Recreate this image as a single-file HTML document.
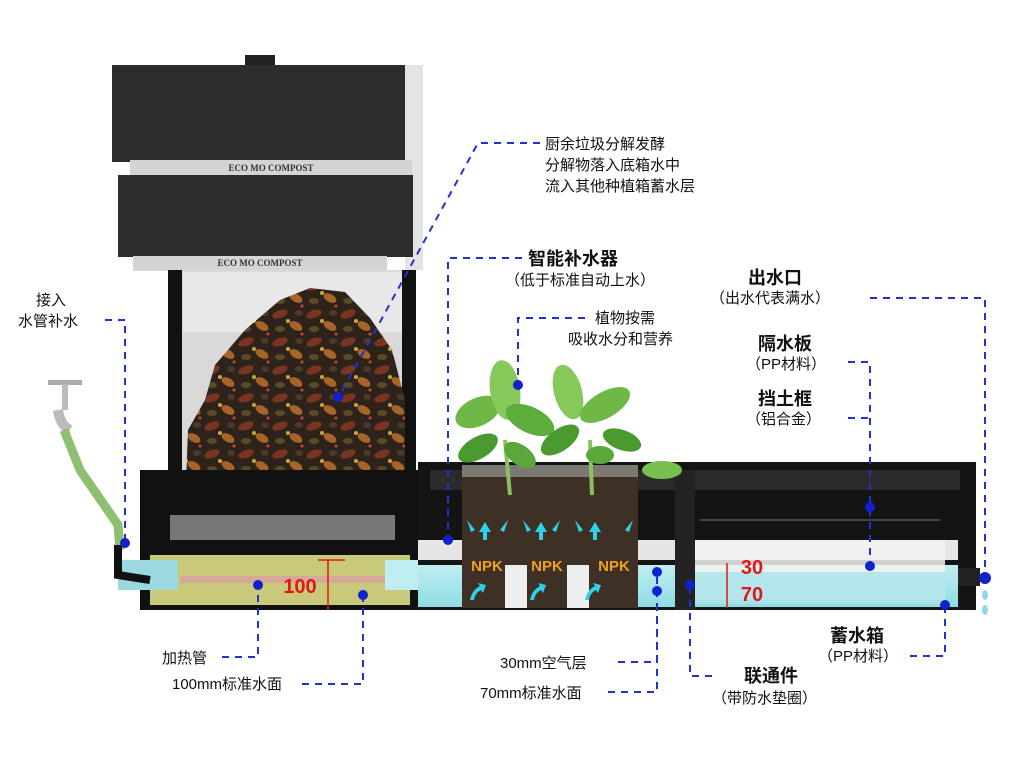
<!DOCTYPE html>
<html><head><meta charset="utf-8"><style>
html,body{margin:0;padding:0;background:#fff;}
svg{display:block;font-family:"Liberation Sans","Noto Sans CJK SC",sans-serif;}
.t{font-size:15px;fill:#111;}
.b{font-size:18px;font-weight:bold;fill:#111;}
.d{stroke:#2233cc;stroke-width:2;stroke-dasharray:7,6;fill:none;}
.dot{fill:#1122cc;}
</style></head><body>
<svg width="1024" height="768" viewBox="0 0 1024 768" xmlns="http://www.w3.org/2000/svg">
<defs>
<linearGradient id="water" x1="0" y1="0" x2="0" y2="1"><stop offset="0" stop-color="#bfeef2"/><stop offset="1" stop-color="#8fdce4"/></linearGradient>
<pattern id="waste" width="34" height="28" patternUnits="userSpaceOnUse">
<rect width="34" height="28" fill="#2e231a"/>
<ellipse cx="8" cy="6" rx="8" ry="4" fill="#7a3422" transform="rotate(-20 8 6)"/>
<ellipse cx="24" cy="18" rx="7" ry="4" fill="#a86428" transform="rotate(30 24 18)"/>
<ellipse cx="8" cy="21" rx="5" ry="3" fill="#5a4a26"/>
<ellipse cx="27" cy="5" rx="4" ry="3" fill="#4a3a2a"/>
<circle cx="16" cy="13" r="2" fill="#c8a838"/>
<circle cx="30" cy="26" r="1.5" fill="#c84a30"/>
</pattern>
</defs>
<rect width="1024" height="768" fill="#fff"/>

<!-- compost bin -->
<rect x="245" y="55" width="30" height="12" fill="#222"/>
<rect x="112" y="65" width="306" height="97" fill="#2c2c2e"/>
<rect x="405" y="65" width="18" height="205" fill="#e4e4e4"/>
<rect x="130" y="160" width="282" height="15" fill="#d4d4d4"/>
<text x="271" y="171" font-size="9" font-family="Liberation Serif,serif" font-weight="bold" fill="#333" text-anchor="middle">ECO MO COMPOST</text>
<rect x="118" y="175" width="295" height="82" fill="#2c2c2e"/>
<rect x="133" y="256" width="254" height="15" fill="#d4d4d4"/>
<text x="260" y="266" font-size="9" font-family="Liberation Serif,serif" font-weight="bold" fill="#333" text-anchor="middle">ECO MO COMPOST</text>
<rect x="168" y="270" width="248" height="240" fill="#d9d9d9"/>
<rect x="183" y="272" width="220" height="60" fill="#e8e8e8"/>
<rect x="168" y="270" width="14" height="245" fill="#111"/>
<rect x="402" y="270" width="14" height="245" fill="#111"/>
<path d="M185 510 L188 430 L205 400 L215 365 L245 330 L280 300 L310 288 L345 292 L370 318 L392 350 L405 400 L405 510 Z" fill="url(#waste)"/>

<!-- base of compost -->
<rect x="140" y="470" width="290" height="140" fill="#111"/>
<rect x="170" y="515" width="225" height="25" fill="#777"/>
<rect x="150" y="555" width="260" height="50" fill="#c9c97a"/>
<rect x="180" y="576" width="230" height="7" fill="#d8a0a0" opacity="0.8"/>
<rect x="118" y="560" width="60" height="30" fill="#9cd8e0"/>
<rect x="385" y="560" width="50" height="30" fill="#bfeef2"/>
<text x="300" y="593" font-size="20" font-weight="bold" fill="#e01818" text-anchor="middle">100</text>
<line x1="328" y1="560" x2="328" y2="610" stroke="#e01818" stroke-width="1.5"/>
<line x1="318" y1="560" x2="345" y2="560" stroke="#e01818" stroke-width="1.5"/>

<!-- faucet & pipe -->
<rect x="48" y="380" width="34" height="5" fill="#aaa"/>
<rect x="62" y="384" width="6" height="26" fill="#bbb"/>
<path d="M58 410 Q60 425 70 430" stroke="#bbb" stroke-width="10" fill="none"/>
<path d="M64 430 L80 470 L118 525 L120 550" stroke="#8fbf70" stroke-width="9" fill="none"/>
<path d="M118 545 L118 575 L150 580" stroke="#111" stroke-width="8" fill="none"/>

<!-- planter -->
<rect x="418" y="462" width="558" height="148" fill="#141414"/>
<rect x="430" y="470" width="530" height="20" fill="#2a2a2a"/>
<line x1="700" y1="520" x2="940" y2="520" stroke="#444" stroke-width="2"/>
<rect x="418" y="540" width="540" height="20" fill="#e6e6e6"/>
<rect x="418" y="565" width="540" height="42" fill="url(#water)"/>
<rect x="690" y="540" width="255" height="60" fill="#f2f2f2" opacity="0.85"/>
<rect x="690" y="572" width="255" height="32" fill="#a8e4ea" opacity="0.8"/>
<rect x="675" y="470" width="20" height="140" fill="#222"/>
<rect x="462" y="468" width="176" height="140" fill="#3e3024"/>
<rect x="462" y="465" width="176" height="12" fill="#7a7a72"/>
<rect x="505" y="565" width="22" height="43" fill="#eee"/>
<rect x="567" y="565" width="22" height="43" fill="#eee"/>
<text x="487" y="571" font-size="15" font-weight="bold" fill="#f0a020" text-anchor="middle">NPK</text>
<text x="547" y="571" font-size="15" font-weight="bold" fill="#f0a020" text-anchor="middle">NPK</text>
<text x="614" y="571" font-size="15" font-weight="bold" fill="#f0a020" text-anchor="middle">NPK</text>
<g fill="#2fd0ea">
<path d="M485 522 l-6 10 h4 v8 h4 v-8 h4 z"/><path d="M541 522 l-6 10 h4 v8 h4 v-8 h4 z"/><path d="M595 522 l-6 10 h4 v8 h4 v-8 h4 z"/>
<path d="M467 520 l8 10 l-4 2 z"/><path d="M508 520 l-8 10 l4 2 z"/><path d="M523 520 l8 10 l-4 2 z"/><path d="M560 520 l-8 10 l4 2 z"/><path d="M575 520 l8 10 l-4 2 z"/><path d="M633 520 l-8 10 l4 2 z"/>
<path d="M470 600 q2-10 10-14 l-2-3 8 2-3 8-2-3 q-6 3-7 10z"/><path d="M530 600 q2-10 10-14 l-2-3 8 2-3 8-2-3 q-6 3-7 10z"/><path d="M585 600 q2-10 10-14 l-2-3 8 2-3 8-2-3 q-6 3-7 10z"/>
</g>
<text x="752" y="574" font-size="20" font-weight="bold" fill="#e01818" text-anchor="middle">30</text>
<text x="752" y="601" font-size="20" font-weight="bold" fill="#e01818" text-anchor="middle">70</text>
<line x1="727" y1="563" x2="727" y2="608" stroke="#e01818" stroke-width="1.5"/>
<rect x="958" y="568" width="22" height="18" fill="#222"/>
<ellipse cx="985" cy="595" rx="3" ry="5" fill="#8fd8ea"/><ellipse cx="985" cy="610" rx="3" ry="5" fill="#8fd8ea"/>

<!-- plants -->
<path d="M505 440 L510 495 M590 440 L592 495" stroke="#8bbf60" stroke-width="4"/>
<g>
<ellipse cx="478" cy="412" rx="24" ry="14" transform="rotate(-25 478 412)" fill="#6fb848"/>
<ellipse cx="505" cy="390" rx="15" ry="30" transform="rotate(-8 505 390)" fill="#86c85a"/>
<ellipse cx="530" cy="420" rx="26" ry="13" transform="rotate(25 530 420)" fill="#5cae3c"/>
<ellipse cx="478" cy="448" rx="22" ry="11" transform="rotate(-30 478 448)" fill="#4a9a30"/>
<ellipse cx="520" cy="455" rx="18" ry="10" transform="rotate(35 520 455)" fill="#5aa83a"/>
<ellipse cx="568" cy="392" rx="14" ry="28" transform="rotate(-15 568 392)" fill="#86c85a"/>
<ellipse cx="605" cy="405" rx="28" ry="13" transform="rotate(-30 605 405)" fill="#6fb848"/>
<ellipse cx="560" cy="440" rx="22" ry="11" transform="rotate(-35 560 440)" fill="#4a9a30"/>
<ellipse cx="622" cy="440" rx="20" ry="10" transform="rotate(20 622 440)" fill="#4a9a30"/>
<ellipse cx="600" cy="455" rx="14" ry="9" fill="#5aa83a"/>
<ellipse cx="662" cy="470" rx="20" ry="9" fill="#78c050"/>
</g>

<!-- callouts -->
<text class="t" x="545" y="149">厨余垃圾分解发酵</text>
<text class="t" x="545" y="170">分解物落入底箱水中</text>
<text class="t" x="545" y="191">流入其他种植箱蓄水层</text>
<path class="d" d="M540 143 H478 L340 395"/><circle class="dot" cx="338" cy="397" r="5"/>

<text class="b" x="528" y="265">智能补水器</text>
<text class="t" x="505" y="285">（低于标准自动上水）</text>
<path class="d" d="M522 258 H448 V540"/><circle class="dot" cx="448" cy="540" r="5"/>

<text class="t" x="595" y="323">植物按需</text>
<text class="t" x="568" y="344">吸收水分和营养</text>
<path class="d" d="M585 318 H518 V385"/><circle class="dot" cx="518" cy="385" r="5"/>

<text class="b" x="748" y="284">出水口</text>
<text class="t" x="710" y="303">（出水代表满水）</text>
<path class="d" d="M870 298 H985 V578"/><circle class="dot" cx="985" cy="578" r="6"/>

<text class="b" x="758" y="350">隔水板</text>
<text class="t" x="746" y="369">（PP材料）</text>
<path class="d" d="M848 362 H870 V568"/><circle class="dot" cx="870" cy="507" r="5"/><circle class="dot" cx="870" cy="566" r="5"/>

<text class="b" x="758" y="405">挡土框</text>
<text class="t" x="746" y="424">（铝合金）</text>
<path class="d" d="M848 418 H870"/>

<text class="t" x="36" y="305">接入</text>
<text class="t" x="18" y="326">水管补水</text>
<path class="d" d="M105 320 H125 V543"/><circle class="dot" cx="125" cy="543" r="5"/>

<text class="t" x="162" y="663">加热管</text>
<path class="d" d="M222 657 H258 V585"/><circle class="dot" cx="258" cy="585" r="5"/>
<text class="t" x="172" y="689">100mm标准水面</text>
<path class="d" d="M302 684 H363 V595"/><circle class="dot" cx="363" cy="595" r="5"/>

<text class="t" x="500" y="668">30mm空气层</text>
<path class="d" d="M618 662 H657 V573"/><circle class="dot" cx="657" cy="572" r="5"/><circle class="dot" cx="657" cy="591" r="5"/>
<text class="t" x="480" y="698">70mm标准水面</text>
<path class="d" d="M608 692 H657 V600"/>

<text class="b" x="744" y="682">联通件</text>
<text class="t" x="712" y="703">（带防水垫圈）</text>
<path class="d" d="M712 676 H690 V585"/><circle class="dot" cx="690" cy="585" r="5"/>

<text class="b" x="830" y="642">蓄水箱</text>
<text class="t" x="818" y="661">（PP材料）</text>
<path class="d" d="M910 656 H945 V605"/><circle class="dot" cx="945" cy="605" r="5"/>
</svg>
</body></html>
